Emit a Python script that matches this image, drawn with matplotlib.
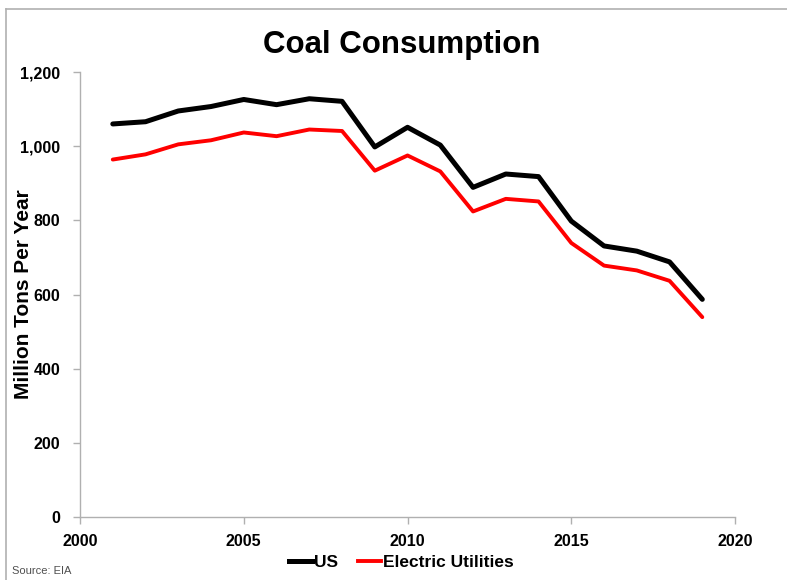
import matplotlib
matplotlib.use("Agg")
import matplotlib.pyplot as plt
from matplotlib.ticker import FuncFormatter
from matplotlib.lines import Line2D

years = [2001, 2002, 2003, 2004, 2005, 2006, 2007, 2008, 2009, 2010,
         2011, 2012, 2013, 2014, 2015, 2016, 2017, 2018, 2019]
us_total = [1060, 1066, 1095, 1107, 1126, 1112, 1128, 1121, 998, 1051,
            1003, 889, 925, 918, 798, 731, 717, 688, 587]
electric = [964, 978, 1005, 1016, 1037, 1027, 1045, 1041, 934, 975,
            932, 824, 858, 851, 739, 678, 665, 637, 539]

plt.rcParams['font.family'] = ['Liberation Sans', 'DejaVu Sans']
plt.rcParams['font.weight'] = 'bold'

fig = plt.figure(figsize=(7.87, 5.8), dpi=100)
ax = fig.add_axes([0.1017, 0.1086, 0.8323, 0.7672])

ax.plot(years, us_total, color='black', lw=3.6, label='US', solid_capstyle='round')
ax.plot(years, electric, color='#ff0000', lw=2.8, label='Electric Utilities', solid_capstyle='round')

ax.set_xlim(2000, 2020)
ax.set_ylim(0, 1200)
ax.set_xticks(range(2000, 2021, 5))
ax.set_yticks(range(0, 1201, 200))
ax.yaxis.set_major_formatter(FuncFormatter(lambda v, p: f'{int(v):,}'))

for s in ['top', 'right']:
    ax.spines[s].set_visible(False)
for s in ['left', 'bottom']:
    ax.spines[s].set_color('#b0b0b0')
    ax.spines[s].set_linewidth(1)
ax.tick_params(colors='#b0b0b0', labelcolor='black', labelsize=11.5, length=5, width=1)
ax.tick_params(axis='x', pad=7)
ax.tick_params(axis='y', pad=9)

ax.set_ylabel('Million Tons Per Year', fontsize=15, fontweight='bold')
ax.yaxis.set_label_coords(-0.072, 0.5)
fig.text(0.51, 0.922, 'Coal Consumption', ha='center', va='center',
         fontsize=22.5, fontweight='bold')

handles = [Line2D([], [], color='black', lw=3.6), Line2D([], [], color='#ff0000', lw=2.8)]
fig.legend(handles, ['US', 'Electric Utilities'], loc='center', bbox_to_anchor=(0.51, 0.03),
           ncol=2, frameon=False, handlelength=1.3, handletextpad=0.1,
           columnspacing=1.2, prop={'weight': 'bold', 'size': 12.5})

fig.text(0.015, 0.01, 'Source: EIA', fontsize=8, color='#505050', fontweight='normal')

# thin border at top and left edge
fig.add_artist(Line2D([0.007, 1], [0.984, 0.984], color='#b0b0b0', lw=1.2))
fig.add_artist(Line2D([0.007, 0.007], [0, 0.984], color='#b0b0b0', lw=1.2))

fig.savefig('out.png', dpi=100)
